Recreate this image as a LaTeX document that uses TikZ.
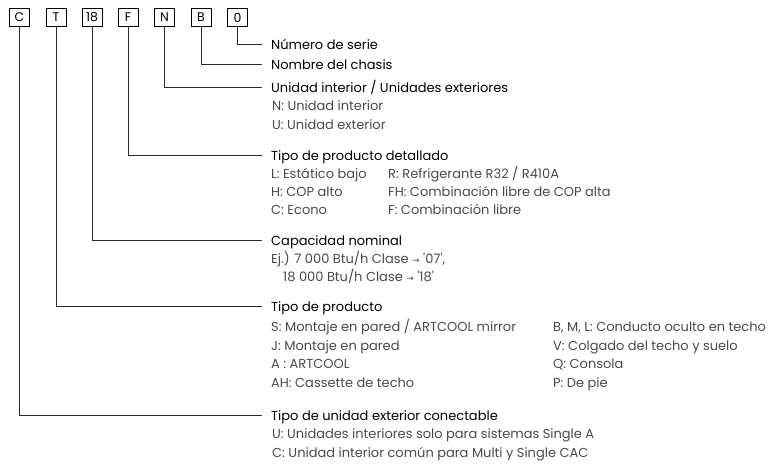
\documentclass[tikz,border=0pt]{standalone}
\usepackage{fontspec}
\setmainfont{Poppins}
\newfontfamily\symfont{DejaVu Sans}
\definecolor{bodygray}{HTML}{4A4A4A}
\definecolor{linegray}{HTML}{2A2A2A}
\begin{document}
\begin{tikzpicture}[x=1pt,y=-1pt,
  codebox/.style={draw=black, line width=0.8pt, minimum width=20pt, minimum height=18pt, inner sep=0pt, font=\fontsize{12.5}{12.5}\selectfont},
  conn/.style={draw=linegray, line width=0.9pt},
  ttl/.style={anchor=base west, inner sep=0pt, font=\fontsize{13}{13}\selectfont, text=black},
  bdy/.style={anchor=base west, inner sep=0pt, font=\fontsize{13}{13}\selectfont, text=bodygray},
]
\useasboundingbox (0,0) rectangle (773,464);
% code boxes
\node[codebox] (bC) at (19.5,17.5) {C};
\node[codebox] (bT) at (56,17.5) {T};
\node[codebox] (b18) at (92,17.5) {18};
\node[codebox] (bF) at (128,17.5) {F};
\node[codebox] (bN) at (164.5,17.5) {N};
\node[codebox] (bB) at (201,17.5) {B};
\node[codebox] (bO) at (237.5,17.5) {0};
% line ends
\coordinate (eO) at (262,44);
\coordinate (eB) at (262,64.5);
\coordinate (eN) at (262,87);
\coordinate (eF) at (262,155.5);
\coordinate (e18) at (262,240.5);
\coordinate (eT) at (262,306);
\coordinate (eC) at (262,415);
\draw[conn] (bO.south) |- (eO);
\draw[conn] (bB.south) |- (eB);
\draw[conn] (bN.south) |- (eN);
\draw[conn] (bF.south) |- (eF);
\draw[conn] (b18.south) |- (e18);
\draw[conn] (bT.south) |- (eT);
\draw[conn] (bC.south) |- (eC);
% texts
\node[ttl] (tO) at (271,49) {Número de serie};
\node[ttl] (tB) at (271,69.5) {Nombre del chasis};
\node[ttl] (tN) at (271,92) {Unidad interior / Unidades exteriores};
\node[bdy] (tN1) at (272,110) {N: Unidad interior};
\node[bdy] (tN2) at (272,129) {U: Unidad exterior};

\node[ttl] (tF) at (271,160.5) {Tipo de producto detallado};
\node[bdy] (tF1) at (271,178.5) {L: Estático bajo};
\node[bdy] (tF2) at (271,196.5) {H: COP alto};
\node[bdy] (tF3) at (271,214.5) {C: Econo};
\node[bdy] (tF4) at (388,178.5) {R: Refrigerante R32 / R410A};
\node[bdy] (tF5) at (388,196.5) {FH: Combinación libre de COP alta};
\node[bdy] (tF6) at (388,214.5) {F: Combinación libre};

\node[ttl] (t18) at (271,245.5) {Capacidad nominal};
\node[bdy] (t181) at (271,263.5) {Ej.) 7 000 Btu/h Clase {\symfont\fontsize{9}{9}\selectfont →} \textquotesingle 07\textquotesingle,};
\node[bdy] (t182) at (283,281.5) {18 000 Btu/h Clase {\symfont\fontsize{9}{9}\selectfont →} \textquotesingle 18\textquotesingle};

\node[ttl] (tT) at (271,311) {Tipo de producto};
\node[bdy] (tT1) at (271,331.5) {S: Montaje en pared / ARTCOOL mirror};
\node[bdy] (tT2) at (271,350) {J: Montaje en pared};
\node[bdy] (tT3) at (271,368.5) {A : ARTCOOL};
\node[bdy] (tT4) at (271,387) {AH: Cassette de techo};
\node[bdy] (tT5) at (553,331.5) {B, M, L: Conducto oculto en techo};
\node[bdy] (tT6) at (553,350) {V: Colgado del techo y suelo};
\node[bdy] (tT7) at (553,368.5) {Q: Consola};
\node[bdy] (tT8) at (553,387) {P: De pie};

\node[ttl] (tC) at (271,420) {Tipo de unidad exterior conectable};
\node[bdy] (tC1) at (272,438.5) {U: Unidades interiores solo para sistemas Single A};
\node[bdy] (tC2) at (272,457) {C: Unidad interior común para Multi y Single CAC};
\end{tikzpicture}
\end{document}
